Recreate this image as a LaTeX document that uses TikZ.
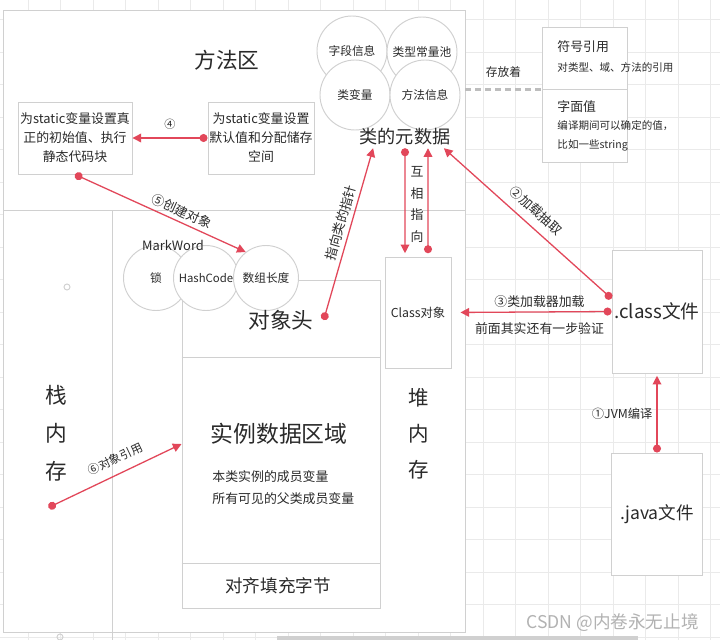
\documentclass[tikz,border=0pt]{standalone}
\usepackage{fontspec}
\setmainfont{Noto Sans CJK SC}
\usetikzlibrary{arrows.meta, positioning, calc}
\definecolor{cred}{HTML}{E2475A}
\definecolor{cline}{HTML}{D0D0D0}
\definecolor{cgrid}{HTML}{EAEAEA}
\definecolor{ctext}{HTML}{2A2A2A}
\definecolor{cdash}{HTML}{BDBDBD}
\tikzset{
  every picture/.style={line width=0.8pt},
  cell/.style={draw=cline, fill=white, align=center, text=ctext, inner sep=0pt},
  bubble/.style={circle, draw=cline, fill=white, minimum size=#1, inner sep=0pt, text=ctext, font=\fontsize{10}{12}\selectfont},
  bubble/.default=2.1cm,
  link/.style={{Circle[length=2.4mm]}-{Triangle[length=2.6mm, width=2.6mm]}, draw=cred, line width=1.1pt},
  note/.style={text=ctext, font=\fontsize{11}{13}\selectfont},
}

\begin{document}
\begin{tikzpicture}[x=0.03cm, y=-0.03cm,
  region/.style={draw=cline, fill=white},
  bigtxt/.style={text=ctext, align=center, font=\fontsize{18.5}{32}\selectfont},
  midtxt/.style={text=ctext, align=center, font=\fontsize{15.5}{18}\selectfont},
  boxtxt/.style={font=\fontsize{11}{16.2}\selectfont},
  smalltxt/.style={text=ctext, font=\fontsize{9}{16.5}\selectfont, anchor=west, inner sep=0pt}]
  \useasboundingbox (0,0) rectangle (720,640);
  \fill[white] (0,0) rectangle (720,640);
  \foreach \gx in {-4.5,28,...,720} \draw[cgrid] (\gx,0) -- (\gx,640);
  \foreach \gy in {-13,19.5,...,640} \draw[cgrid] (0,\gy) -- (720,\gy);
  \fill[cline] (277,636) rectangle (638,640);

  \node[region, minimum width=13.86cm, minimum height=6cm] (ma) at (234,110) {};
  \draw[region] (3,210) rectangle (112,632);
  \draw[region] (112,210) rectangle (465,632);
  \draw[cline] (112,632) -- (112,640);
  \draw[cline] (67,287) circle[radius=3];
  \draw[cline] (60,637) circle[radius=3];

  % method area
  \node[bigtxt] (matitle) at (227,60) {方法区};
  \node[cell, boxtxt, minimum width=3.42cm, minimum height=2.16cm] (si) at (75,138) {为static变量设置真\\正的初始值、执行\\静态代码块};
  \node[cell, boxtxt, minimum width=3.18cm, minimum height=2.16cm] (sv) at (261,138) {为static变量设置\\默认值和分配储存\\空间};
  \node[bubble] (field) at (352,51) {字段信息};
  \node[bubble] (pool) at (422,52) {类型常量池};
  \node[bubble] (cvar) at (355,95) {类变量};
  \node[bubble] (mtd) at (425,95) {方法信息};
  \node[midtxt, inner sep=2pt] (meta) at (405,137) {类的元数据};

  % constant pool
  \node[cell, minimum width=2.55cm, minimum height=1.86cm] (sym) at (584.5,58) {};
  \node[cell, minimum width=2.55cm, minimum height=2.19cm] (lit) at (584.5,125.5) {};
  \node[smalltxt, font=\fontsize{11}{13}\selectfont] (symt) at (557,47) {符号引用};
  \node[smalltxt] (symd) at (557,67) {对类型、域、方法的引用};
  \node[smalltxt, font=\fontsize{11}{13}\selectfont] (litt) at (557,107) {字面值};
  \node[smalltxt, anchor=north west, align=left] (litd) at (557,120) {编译期间可以确定的值，\\比如一些string};
  \draw[cdash, line width=2.5pt, dash pattern=on 1.8mm off 1.2mm] (ma.east |- sym.south) -- node[note, above=6pt, font=\fontsize{10}{12}\selectfont] {存放着} (sym.south west);

  % heap and stack
  \node[cell, minimum width=5.94cm, minimum height=9.84cm] (obj) at (281,444) {};
  \draw[cline] (obj.west |- 0,357) -- (obj.east |- 0,357);
  \draw[cline] (obj.west |- 0,563) -- (obj.east |- 0,563);
  \node[bubble=1.95cm] (lock) at (156,278) {锁};
  \node[bubble=1.95cm, font=\fontsize{9.7}{12}\selectfont] (hash) at (206,278) {HashCode};
  \node[bubble=1.95cm] (len) at (266,278) {数组长度};
  \node[note] (mw) at (173,245) {MarkWord};
  \node[bigtxt, inner sep=2pt] (head) at (281,320) {对象头};
  \node[bigtxt, font=\fontsize{19.5}{22}\selectfont] (inst) at (279,434) {实例数据区域};
  \node[smalltxt, font=\fontsize{11}{13}\selectfont] (mem1) at (212,477) {本类实例的成员变量};
  \node[smalltxt, font=\fontsize{11}{13}\selectfont] (mem2) at (212,499) {所有可见的父类成员变量};
  \node[midtxt, font=\fontsize{15}{18}\selectfont] (pad) at (278,586) {对齐填充字节};
  \node[cell, minimum width=1.98cm, minimum height=3.33cm, font=\fontsize{10.5}{12}\selectfont] (cls) at (418,312.5) {Class对象};
  \node[bigtxt, font=\fontsize{17.5}{30.6}\selectfont] (heap) at (419,434) {堆\\内\\存};
  \node[bigtxt, font=\fontsize{18.5}{32.5}\selectfont] (stack) at (56,433) {栈\\内\\存};
  \node[note, align=center, font=\fontsize{11}{18.7}\selectfont] (mutual) at (417,204.5) {互\\相\\指\\向};

  % files
  \node[cell, minimum width=2.7cm, minimum height=3.69cm, font=\fontsize{16}{18}\selectfont] (cf) at (657,311.5) {.class文件};
  \node[cell, minimum width=2.73cm, minimum height=3.66cm, font=\fontsize{15}{18}\selectfont] (jf) at (657,514) {.java文件};
  \coordinate (ref) at (48.5,507.5);

  \draw[link] (sv.west) -- node[note, above=3pt, font=\fontsize{9.5}{11}\selectfont] {④} (si.east);
  \draw[link] (si.south) -- node[note, pos=0.6, above, sloped] {⑤创建对象} (len.128);
  \draw[link] ([xshift=0.22cm]head.east) -- node[note, pos=0.55, above, sloped] {指向类的指针} ([xshift=0.49cm]meta.south west);
  \draw[link, shorten >=1mm] (meta.south) -- ([xshift=-0.39cm]cls.north);
  \draw[link, shorten <=1mm] ([xshift=0.3cm]cls.north) -- ([xshift=0.69cm]meta.south);
  \draw[link] ([yshift=0.39cm]cf.west) -- node[note, pos=0.51, above=4pt, sloped] {②加载抽取} ([xshift=-0.28cm]meta.south east);
  \draw[link, shorten >=2.7mm] (cf.west) -- node[note, pos=0.45, above] {③类加载器加载} node[note, pos=0.45, below=5pt] {前面其实还有一步验证} (cls.east);
  \draw[link, shorten >=0.7mm] (jf.north) -- node[note, pos=0.49, left, font=\fontsize{10.5}{12}\selectfont] {①JVM编译} (cf.south);
  \draw[link] (ref) -- node[note, pos=0.55, above=4pt, sloped, font=\fontsize{10}{12}\selectfont] {⑥对象引用} (obj.west);

  \node[text=gray!60, font=\fontsize{15}{17}\selectfont, anchor=east] (mark) at (703,623) {CSDN @内卷永无止境};
\end{tikzpicture}
\end{document}
